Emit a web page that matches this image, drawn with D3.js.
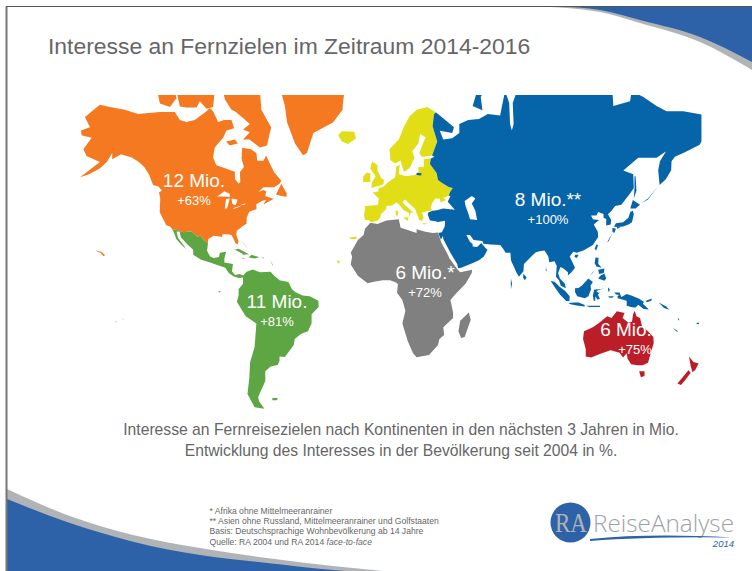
<!DOCTYPE html>
<html>
<head>
<meta charset="utf-8">
<script src="https://cdn.jsdelivr.net/npm/d3@7"></script>
<style>
body { margin: 0; background: #fff; }
svg { display: block; font-family: "Liberation Sans", Arial, sans-serif; }
</style>
</head>
<body>
<div id="chart-container"></div>
<script>
// values of the chart
const continents = ['Nordamerika', 'Südamerika', 'Afrika', 'Asien', 'Australien'];
const interest = ['12 Mio.', '11 Mio.', '6 Mio.*', '8 Mio.**', '6 Mio.'];
const change = ['+63%', '+81%', '+72%', '+100%', '+75%'];
const title = 'Interesse an Fernzielen im Zeitraum 2014-2016';
const caption = [
    'Interesse an Fernreisezielen nach Kontinenten in den nächsten 3 Jahren in Mio.',
    'Entwicklung des Interesses in der Bevölkerung seit 2004 in %.'
];
const notes = [
    '* Afrika ohne Mittelmeeranrainer',
    '** Asien ohne Russland, Mittelmeeranrainer und Golfstaaten',
    'Basis: Deutschsprachige Wohnbevölkerung ab 14 Jahre'
];

// coastlines, lon/lat
const northAmerica = [[-169.1,53.7],[-157.9,58.5],[-165.4,60.2],[-167.2,62],[-162.5,64.9],[-168.2,65.5],[-168.5,66.6],[-163.5,67.3],[-166.3,69.4],[-157.9,71.7],[-152.3,71.3],[-143.9,70.8],[-136.4,70],[-124.2,70.4],[-115.8,70.4],[-113,68.8],[-109.3,68.4],[-104.6,68.8],[-98,70.5],[-96.2,71.1],[-94.3,70.5],[-91.5,68.4],[-88.1,68.8],[-84,68.8],[-82.5,67.1],[-86.8,66.6],[-88.7,64.9],[-93.4,62.5],[-94.3,59.8],[-92.5,57.5],[-89.6,57],[-82.1,55.5],[-82,53],[-79.9,51.5],[-79,52.3],[-79.3,55.3],[-77,57],[-78.3,59.4],[-78,62.4],[-73,62],[-70,61],[-69.5,58.8],[-66,58.8],[-64.5,60.3],[-62,57.5],[-60,55.3],[-56,52.5],[-57,51.5],[-60,50.2],[-66,50.2],[-69,48.5],[-66,49.2],[-64.5,48.8],[-65,47],[-61,46],[-60,46],[-63.5,44.6],[-66,43.6],[-64.5,45.5],[-67,45],[-70,43.7],[-70,41.7],[-74,40.6],[-75.5,38],[-75.5,35.3],[-78,34],[-81,32],[-81.3,30],[-80,26.8],[-80.5,25.2],[-81.8,26],[-82.8,28],[-84,30],[-86,30.4],[-89,30.3],[-89.3,29],[-90.5,29.2],[-94,29.6],[-97,28],[-97.2,25.9],[-99.5,27.5],[-101.5,29.8],[-103,29],[-106.5,31.8],[-111,31.3],[-114.8,32.5],[-117.1,32.5],[-118.5,34],[-120.6,34.6],[-122.5,37.7],[-124.3,40.4],[-124,46],[-124.7,48.4],[-123,49],[-125,50.5],[-128,51],[-130.3,54.6],[-133,57],[-136,58.5],[-140,59.8],[-146,60.7],[-151,59.3],[-151,61],[-154,58.5],[-158,56.5],[-164,54.7]];
const baffin = [[-88.7,74],[-68,74],[-67.2,70.8],[-61.6,67.2],[-62.5,66],[-64,63],[-68,62.5],[-74,64.5],[-77.5,64.5],[-73.7,66.2],[-77.5,66.8],[-73.7,68],[-77.5,69.2],[-82.1,70.5],[-84,70.8],[-87.7,72.6]];
const banksIsland = [[-125.7,74],[-115.8,74],[-114.9,72.8],[-118.6,71.3],[-124.2,71.9]];
const victoria = [[-114.9,74],[-93.4,74],[-94.3,71.3],[-98,71],[-101.8,72.3],[-103.6,71.2],[-109.3,71.2],[-113,71.4]];
const southampton = [[-87,64],[-82,64.5],[-80.5,63.5],[-85,63]];
const newfoundland = [[-59,47.6],[-56,51.5],[-53,48],[-53,46.7],[-56,47]];
const greenland = [[-56.3,74],[-20.5,74],[-21.4,72],[-21.6,70.8],[-27,68.3],[-38,66],[-41.6,61],[-43.8,60.4],[-48.3,63.5],[-52.8,68.4],[-54,71.5]];
const hawaii = [[-160,22.2],[-157,21.4],[-155,19.8],[-155.8,19.2],[-157.5,20.9],[-160,21.9]];
const southAmerica = [[-117.1,32.5],[-114.8,32.5],[-111,31.3],[-106.5,31.8],[-103,29],[-101.5,29.8],[-99.5,27.5],[-97.2,25.9],[-97.7,22],[-96,19],[-94,18.2],[-91,18.7],[-90.5,21],[-87,21.5],[-88,18],[-88,15.8],[-83.2,15],[-83.7,11],[-82,9],[-79.5,9.5],[-77.4,8.7],[-75.5,10.7],[-72,12],[-68,10.5],[-62,10.7],[-60,8.5],[-57,6],[-52,5],[-50,1],[-48,-0.7],[-44,-2.5],[-40,-3],[-35.2,-5.5],[-35,-9],[-39,-13],[-39,-18],[-41,-22],[-45,-23.5],[-48.5,-26],[-49,-29],[-52,-32.5],[-54,-34.7],[-57,-34.5],[-57,-36.5],[-58,-38.3],[-62,-39],[-65,-41],[-65,-45],[-69,-51],[-68.5,-52.5],[-65.5,-55],[-71,-54.5],[-75,-50],[-74,-44],[-73.5,-37],[-71,-30],[-70,-18],[-76,-14],[-81,-6],[-80,-2.5],[-80,1],[-77.5,4],[-77.5,7.5],[-80,7.3],[-83,8.3],[-85.5,10],[-87.5,13],[-92,14.5],[-96,15.8],[-101,17.3],[-105.5,20],[-105.5,22.5],[-109,25.5],[-112.5,29],[-113,31.5],[-114.8,31.7],[-114,28.5],[-111,25],[-109.5,23],[-112,25],[-115,28],[-116,30.5]];
const cuba = [[-84.8,22],[-80,23.1],[-74.2,20.2],[-77.5,19.9],[-78,20.6],[-82,22.5]];
const hispaniola = [[-74.4,18.5],[-72.7,20],[-68.4,18.6],[-71,18]];
const jamaica = [[-78.3,18.4],[-76.3,18.1],[-77.5,17.8]];
const puertoRico = [[-67.2,18.5],[-65.6,18.4],[-66,17.9]];
const antilles = [[-62,17.2],[-60.8,14.5],[-61,14]];
const bahamas = [[-78,26.8],[-76.5,25],[-75,23.5],[-76.2,24.5],[-77.5,26]];
const galapagos = [[-91.5,0],[-90,-0.3],[-90.8,-1]];
const falklands = [[-61,-51.4],[-58,-51.4],[-58.5,-52.2],[-61,-52.2]];
const scandinavia = [[28.7,60.3],[23,59.9],[21.5,61],[25,65],[22,65.8],[21,63.5],[17.5,61.5],[18.8,59.8],[16.5,57],[14.5,56],[12.8,55.5],[11,58.9],[8,58],[5.3,59],[4.8,62],[10,64.5],[13,67.5],[16,69.5],[20,70.8],[26,71.3],[31,70.3],[29.8,70],[29,67.5],[31.6,64]];
const mainlandEurope = [[28,59.5],[27.5,57.9],[31.3,55],[32,52.8],[35,51.5],[38,50.3],[40.3,50],[38.8,48.5],[38,47.1],[35,46.2],[36.5,45.3],[33.5,44.4],[33,46],[30.5,46],[28.6,44],[28,42],[29,41.2],[26,40.8],[23,40.3],[24,38],[23,36.5],[21.5,37],[19.5,41],[19,42],[15,44.5],[13.7,45.6],[12.3,45],[12.5,44],[16,41.8],[18.4,40],[16.8,40.4],[15.7,38],[15.8,40],[12.5,41.5],[10.3,43.5],[8.8,44.4],[6,43.2],[3,43],[3,41.8],[0,39.5],[-0.5,38],[-2,36.7],[-5.5,36],[-7,37],[-9,37],[-9.5,38.8],[-8.9,43],[-1.7,43.4],[-1.2,46],[-4.7,48.3],[-1.5,48.7],[-1.5,49.7],[1.5,50.5],[4,52],[8,53.7],[8.5,57],[10.5,57.7],[10,54.8],[14,54],[19,54.4],[21,55.2],[21,57],[24,57],[24,59.3]];
const britain = [[-5.5,50],[1.3,51.2],[1.7,52.7],[0,53.5],[-2,56],[-2,57.6],[-5,58.6],[-6,56.5],[-3,54],[-5,52]];
const ireland = [[-10,52],[-6,52.2],[-6,55],[-8,55.2],[-10,54]];
const iceland = [[-24,65.5],[-22,64],[-18.5,63.4],[-14,64.7],[-15,66.3],[-22,66.4]];
const sicily = [[12.5,38],[15.5,38.2],[15,36.7]];
const sardinia = [[8.2,41],[9.7,41],[9.5,39],[8.4,39]];
const crete = [[23.6,35.6],[26.3,35.3],[24,35]];
const canaries = [[-18,28.7],[-13.5,29.2],[-14,28],[-17,28]];
const capeVerde = [[-25,17],[-23,16.5],[-23.6,15]];
const africa = [[-6,35.8],[-2,35.2],[3,36.8],[10,37.3],[11,33.5],[15,32.4],[20,31],[20,32.8],[25,31.6],[29,31],[32.3,31.2],[32.5,29.9],[34,26],[37,21],[38.5,18],[43,12],[44.5,10.5],[51.2,11.8],[51,10],[47.5,4],[42,-1.5],[39,-5],[40.5,-12],[40.5,-15],[35,-20],[35.5,-24],[32.8,-26],[32,-29],[27,-33.8],[20,-34.8],[18,-33],[15,-27],[12,-18],[13.7,-11],[12,-5],[9,-1],[9.5,3.8],[8.5,4.7],[5,6],[1,6],[-4,5.2],[-7.5,4.4],[-13,8.5],[-17,14.7],[-16.2,19],[-17,21],[-13,27.5],[-9.8,30],[-9,33]];
const madagascar = [[49.3,-12],[50.4,-16],[47,-25],[45,-25.5],[43.5,-22],[44.5,-16.5]];
const asia = [[31,70.3],[41,67.3],[40,66],[33,66.5],[35,64.5],[40,64.8],[44,66],[44,68],[49,68.8],[55,69],[60,70],[66.9,69.7],[69.7,74],[72,72],[72.5,68],[73.5,66.6],[74.5,68],[74,72],[76.4,74],[130,74],[130.5,71.5],[139.9,72.3],[140.8,74],[147.4,73],[154.8,71.5],[160.4,70.5],[169.8,70.5],[180,69.9],[180,64],[179,63.2],[170.7,61.2],[165.1,60],[163.2,58.7],[163,56],[160,53],[156.5,51],[155.7,56],[156.7,58.7],[160.4,61.7],[165,63],[154.8,59.7],[144.5,59.7],[136.1,55.9],[141.7,54.7],[142,50],[140,48],[135,43.5],[131.5,43],[129.5,41],[127.5,39.5],[129.3,37],[129,35],[126.5,34.5],[126.5,37.5],[125,38],[125,39.7],[122,40.5],[121,39],[118,39],[119,37.3],[122.5,37],[119.5,35],[121.8,31.5],[122,29],[119,25],[114,22.3],[110,21],[108,21.5],[106,19],[109,13],[107,10.5],[105,8.7],[105,10.5],[102.5,12.5],[100.8,13.4],[99.5,10],[100.5,7],[103.3,4],[103.8,1.5],[101,3],[100,6],[98.3,8],[98.7,14],[97.5,16.5],[94.5,16],[94,19],[91.8,22.2],[89,21.8],[87,21.3],[85,19.5],[80.3,15],[80,11],[77.5,8],[76,10.5],[73,17],[72.7,21],[70,21],[69,22.5],[67,25],[61.5,25.2],[57.5,25.6],[57,27],[52,27.5],[50,30],[48,30],[50,26.5],[51.5,25.5],[51.5,24.2],[54,24],[56.3,26],[58.7,23.5],[59.8,22.5],[57.8,19],[55,17],[52,15.7],[45,13],[43.3,12.7],[42.8,15],[39,21],[35,28],[34.8,29.5],[33.7,27.8],[32.6,30],[32.6,31.1],[34.2,31.3],[35.8,34],[36,36.7],[32,36.1],[30.5,36.4],[27.5,36.8],[26.3,39.3],[26.5,40.3],[29,41],[31.5,41.2],[35,42],[41.5,41.5],[37.5,44.7],[39,47],[38,47.1],[38.8,48.5],[40.3,50],[38,50.3],[35,51.5],[32,52.8],[31.3,55],[27.5,57.9],[28,59.5],[30,60],[28.7,60.3],[31.6,64],[29,67.5],[29.8,70]];
const kaliningrad = [[20,55.2],[22.8,55],[22.5,54.3],[20,54.4]];
const novayaZemlya = [[51.5,71.5],[57,70.7],[56,73],[60,75],[54,74]];
const honshu = [[130.9,34],[132,35.5],[136,36],[139,38],[140,40.5],[141.5,41],[142,39.5],[141,36],[139,35],[136,34],[132,33.8]];
const hokkaido = [[140,42],[141.5,45.4],[145.5,43.5],[143,42]];
const kyushu = [[130,33.5],[132,33],[131,31],[130,31.5]];
const shikoku = [[132.5,33.8],[134.5,34.2],[134,33.4],[132.7,33]];
const sakhalin = [[142,46],[143.5,49],[143,54],[142.4,54],[142.4,50]];
const kurils = [[146,44],[150,46],[155.5,50.5],[150,45.6]];
const ryukyu = [[127,26.3],[130,31],[128,27]];
const taiwan = [[121,25.2],[122,25],[120.8,22],[120.1,23.2]];
const hainan = [[109,20],[111,20],[110,18.2],[108.7,18.7]];
const sriLanka = [[80,9.7],[81.8,7.5],[80.8,6],[79.8,7.5]];
const andaman = [[92.7,13.5],[93,11],[92.5,11.5]];
const maldives = [[73,7],[73.6,4],[73,1],[72.9,4]];
const luzon = [[120.5,18.5],[122.2,18.4],[122,15],[124,13],[121,13.7],[120,15.5]];
const mindanao = [[123.2,8.6],[125.5,9.8],[126.5,7],[125.5,5.8],[122,7]];
const visayas = [[122,11.8],[125.5,12.5],[125.2,10],[122.5,9.5]];
const palawan = [[117.2,8.4],[119.6,11.3],[119,10.2]];
const borneo = [[109,1.5],[111,1.7],[113,3.2],[116.5,7],[119,5],[117.7,3],[118,1],[116.5,-3],[114.5,-4],[110.2,-3],[109,-0.5]];
const sumatra = [[95.3,5.6],[97.5,5.2],[100.5,2.2],[103.5,0],[106,-3],[105.8,-5.8],[104,-5.6],[100.5,-2],[98,1.5]];
const java = [[105.2,-6.7],[108.5,-6.5],[111,-6.5],[114.5,-7.8],[114.3,-8.7],[110,-8.1],[106.5,-7.4]];
const lesserSunda = [[115,-8.2],[119,-8.3],[123,-8.2],[123,-9],[117,-9]];
const timor = [[123.5,-10.3],[127,-8.4],[125,-9.5]];
const sulawesi = [[119.8,0.8],[123,1],[125.2,1.6],[121,0],[122,-1],[123,-1],[121.8,-2],[123,-4.5],[121.5,-4.8],[120.5,-3],[120.3,-5.5],[119.5,-5.5],[119,-2.5]];
const halmahera = [[127.5,2],[128.5,1],[128,-0.7],[127.5,0.5]];
const seram = [[127.8,-3],[130.8,-3],[130,-3.8],[128,-3.6]];
const newGuinea = [[131,-0.8],[134,-0.8],[135,-3.3],[138,-1.7],[141,-2.6],[145,-4.3],[147.8,-6.2],[147,-7],[150.5,-10.3],[147.5,-10],[144.5,-7.7],[143,-9.2],[141,-9.1],[138,-8.3],[138,-5.5],[133,-4],[132.8,-2.8],[134,-2.2],[132,-2]];
const newBritain = [[148.5,-5.6],[152.2,-4.2],[151.8,-5.5],[149.5,-6.3]];
const solomons = [[156,-6.5],[160,-8.5],[162,-10.5],[159,-9.5]];
const fiji = [[177.4,-17.5],[178.7,-17.5],[178.5,-18.3],[177.3,-18.2]];
const vanuatu = [[166.5,-15],[167.5,-15.5],[167.3,-16.5]];
const caledonia = [[164,-20.2],[167,-22.2],[166,-22.2]];
const australia = [[114,-22],[113.5,-26],[115,-31],[115,-34.5],[118,-35],[124,-33],[129,-31.6],[134,-32.7],[136,-35],[138,-33],[138.5,-35.5],[140.5,-38],[144,-38.5],[147,-38.5],[150,-37.3],[151.5,-33],[153.2,-28],[153,-25],[150.5,-22.5],[146.5,-19],[145.5,-15],[143.5,-14],[142.5,-11],[141.6,-13],[141,-17],[139,-17.5],[135.7,-15],[136.8,-12.2],[132.5,-11.3],[129.5,-15],[127,-14],[124,-16.5],[122,-18],[119,-20]];
const tasmania = [[145,-41],[148,-41],[148,-43],[146,-43.5]];
const nzSouth = [[166.5,-46],[168.5,-46.6],[171,-44.5],[174,-41.7],[172.7,-40.6],[170,-43]];
const nzNorth = [[173,-34.5],[175.5,-37],[178.4,-37.7],[176.5,-40.5],[175,-41.5],[174,-39]];
const tahiti = [[-150,-17],[-148.6,-16.6],[-148,-17.4]];
const tuamotu = [[-146,-15.5],[-144.5,-15.2],[-144,-16]];
// water drawn over the land
const caspian = [[47,45],[51,47],[53,46],[51,44],[53,41],[54,37],[50,37.3],[49,40],[47.5,43]];
const superior = [[-92,46.8],[-88,48.8],[-85,47.8],[-85,46.6],[-88,46.8]];
const michigan = [[-87.8,42],[-87,45.8],[-85,46],[-85.5,44.5],[-86.5,42]];
const huron = [[-84,46],[-80.5,45.5],[-81.7,43.3],[-83.5,43.8]];
const erie = [[-83.3,41.7],[-79,42.8],[-79,43],[-82.5,42.3]];
const ontario = [[-79.5,43.3],[-76.3,44],[-76.2,43.5]];

const svgWidth = 752;
const svgHeight = 571;

const svg = d3.select('#chart-container')
.append('svg')
.attr('width', svgWidth)
.attr('height', svgHeight);

// slide frame and swooshes
const swoosh = d3.line().curve(d3.curveMonotoneX);
function addSwoosh(points, corner, color) {
    svg.append('path').attr('d', swoosh(points) + corner + 'Z').attr('fill', color);
}
addSwoosh([[540,6.5],[600,12],[640,23],[700,42],[752,70]], 'L752,6.5', '#b1b4b6');
addSwoosh([[557,6.5],[600,10],[640,20],[700,37],[752,62]], 'L752,6.5', '#2d62a8');
addSwoosh([[7,489],[67,515],[133,535],[200,548],[267,558],[333,566],[383,571]], 'L7,571', '#b1b4b6');
addSwoosh([[7,499],[67,522],[133,541.7],[200,555],[267,563],[333,570],[345,571]], 'L7,571', '#2d62a8');
svg.append('path').attr('d', 'M6.5,571V6.5').attr('fill', 'none').attr('stroke', '#777').attr('stroke-width', 2);
svg.append('path').attr('d', 'M6,6.5H752').attr('fill', 'none').attr('stroke', '#555').attr('stroke-width', 1);

svg.append('text')
.attr('x', 48)
.attr('y', 54)
.attr('font-size', 22.9)
.attr('fill', '#666')
.text(title);

// map
const projection = d3.geoMercator().scale(102).translate([381, 291]);
const outline = d3.line()
.x(d => projection(d)[0])
.y(d => projection(d)[1])
.curve(d3.curveLinearClosed);

svg.append('clipPath').attr('id', 'map-clip')
.append('rect').attr('x', 0).attr('y', 95).attr('width', svgWidth).attr('height', 400);

const landGroups = [
    ['#f47920', [northAmerica, baffin, banksIsland, victoria, southampton, newfoundland, greenland, hawaii]],
    ['#5ea544', [southAmerica, cuba, hispaniola, jamaica, puertoRico, antilles, bahamas, galapagos, falklands]],
    ['#e1dd17', [scandinavia, mainlandEurope, britain, ireland, iceland, sicily, sardinia, crete, canaries, capeVerde]],
    ['#808080', [africa, madagascar]],
    ['#0664a9', [asia, kaliningrad, novayaZemlya, honshu, hokkaido, kyushu, shikoku, sakhalin, kurils, ryukyu, taiwan, hainan, sriLanka, andaman, maldives, luzon, mindanao, visayas, palawan, borneo, sumatra, java, lesserSunda, timor, sulawesi, halmahera, seram, newGuinea, newBritain, solomons, fiji, vanuatu, caledonia]],
    ['#bb1e27', [australia, tasmania, nzSouth, nzNorth]],
    ['#d5d5d5', [tahiti, tuamotu]],
    ['#fff', [caspian, superior, michigan, huron, erie, ontario]]
];

const map = svg.append('g').attr('clip-path', 'url(#map-clip)');
landGroups.forEach(([color, shapes]) => {
    map.append('g')
    .selectAll('path')
    .data(shapes)
    .enter()
    .append('path')
    .attr('d', outline)
    .attr('fill', color);
});

// labels
const labelX = [194, 277, 425, 548, 626];
const labelY = [187, 308, 279, 206, 336];
const changeX = [194, 277, 425, 548, 635];
const labels = svg.append('g').attr('fill', '#fff').attr('text-anchor', 'middle');
continents.forEach((name, i) => {
    labels.append('text').attr('x', labelX[i]).attr('y', labelY[i]).attr('font-size', 19).text(interest[i]);
    labels.append('text').attr('x', changeX[i]).attr('y', labelY[i] + 17.5).attr('font-size', 13).text(change[i]);
});

// caption
svg.append('g')
.attr('fill', '#666')
.attr('text-anchor', 'middle')
.attr('font-size', 15.7)
.selectAll('text')
.data(caption)
.enter()
.append('text')
.attr('x', 401)
.attr('y', (d, i) => 435 + i * 21)
.text(d => d);

// footnotes
const footnotes = svg.append('g').attr('fill', '#666').attr('font-size', 8.6);
footnotes.selectAll('text')
.data(notes)
.enter()
.append('text')
.attr('x', 209.5)
.attr('y', (d, i) => 514 + i * 10.2)
.text(d => d);
const source = footnotes.append('text').attr('x', 209.5).attr('y', 544.7);
source.append('tspan').text('Quelle: RA 2004 und RA 2014 ');
source.append('tspan').attr('font-style', 'italic').text('face-to-face');

// logo
const logo = svg.append('g');
logo.append('circle').attr('cx', 570.5).attr('cy', 522.5).attr('r', 20).attr('fill', '#2d62a8');
logo.append('text').attr('x', 555).attr('y', 532).attr('textLength', 32).attr('lengthAdjust', 'spacingAndGlyphs')
.attr('font-family', '"Liberation Serif", serif').attr('font-size', 28).attr('fill', '#b1b4b6').text('RA');
logo.append('text').attr('x', 593).attr('y', 532).attr('textLength', 141).attr('lengthAdjust', 'spacingAndGlyphs')
.attr('font-size', 24).attr('fill', '#9ea2a5')
.attr('font-family', '"Open Sans", sans-serif').attr('font-weight', 300).text('ReiseAnalyse');
logo.append('path').attr('d', 'M590,539Q650,533 732,537.5Q650,536.5 590,541Z').attr('fill', '#2d62a8');
logo.append('text').attr('x', 734).attr('y', 547).attr('text-anchor', 'end').attr('font-size', 9.5)
.attr('font-style', 'italic').attr('fill', '#2d62a8').text('2014');
</script>
</body>
</html>
